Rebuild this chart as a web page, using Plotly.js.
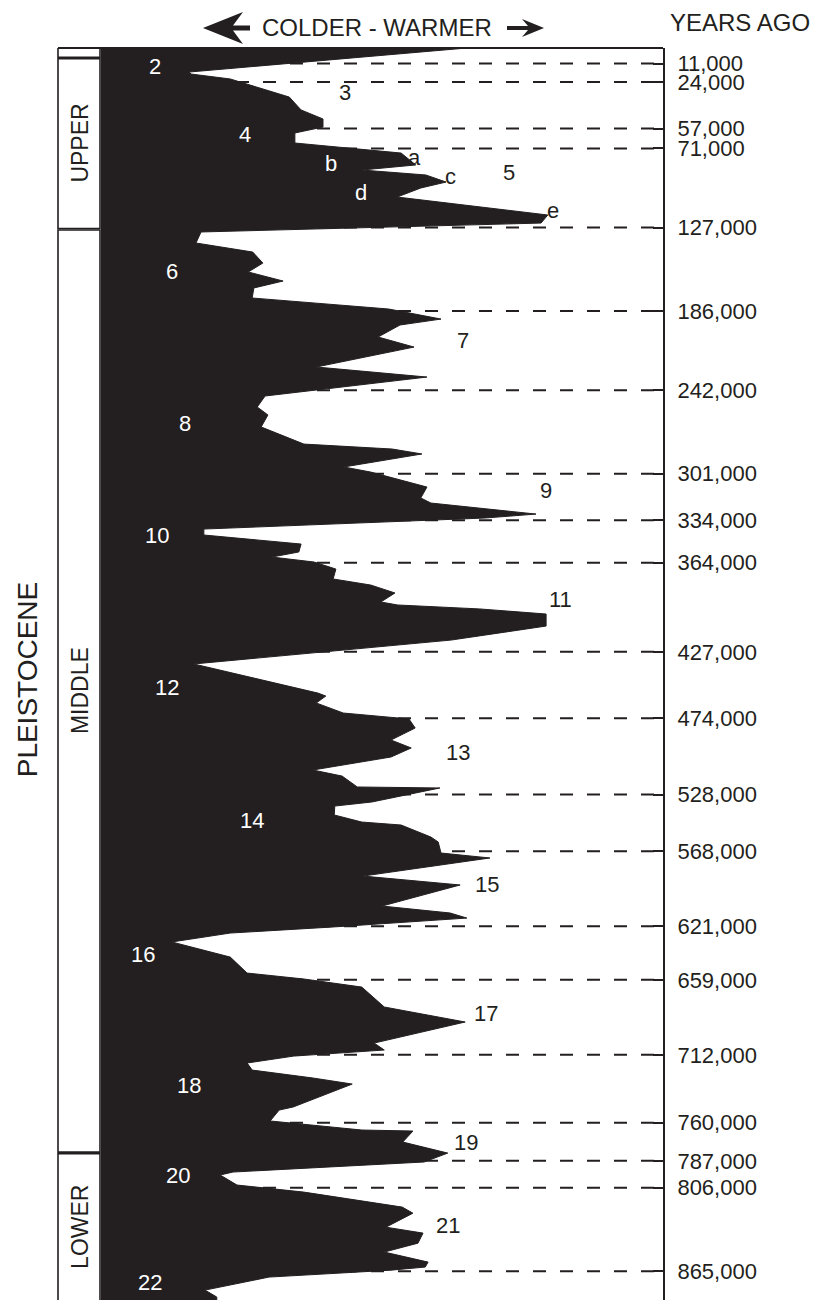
<!DOCTYPE html>
<html><head><meta charset="utf-8">
<script src="https://cdn.plot.ly/plotly-3.0.1.min.js"></script>
<style>html,body{margin:0;padding:0;background:#fff}#chart{width:814px;height:1300px}</style>
</head><body><div id="chart"></div>
<script>
// Relative warmth index (0 = coldest edge, 100 = right axis) vs age in years
const warmth = [65.1,15.7,16.0,23.0,33.5,35.6,39.5,39.5,34.5,34.5,53.4,56.0,46.4,57.8,61.4,56.9,52.7,79.5,78.3,
  17.8,16.9,27.0,28.8,26.2,32.4,27.2,26.9,51.2,60.5,53.2,49.3,55.7,38.3,58.0,29.2,27.8,29.7,28.5,36.1,51.8,57.1,
  43.2,48.0,58.0,56.9,58.7,77.4,68.3,18.3,18.3,35.6,35.2,30.4,37.9,41.8,41.3,48.0,52.3,49.8,52.8,67.4,79.2,79.2,
  62.3,16.5,38.6,40.0,38.3,43.1,54.8,55.9,51.6,55.2,51.6,37.7,42.9,45.6,60.3,48.2,41.6,41.5,46.4,53.4,58.7,60.0,
  60.5,69.2,46.6,63.9,50.0,62.1,65.1,41.3,23.0,12.6,23.0,26.0,36.1,46.4,50.4,64.8,48.6,50.4,34.3,26.0,26.9,37.7,
  44.7,34.2,31.7,30.1,46.4,55.5,53.7,61.7,57.5,23.5,21.2,24.2,36.1,53.6,55.5,50.7,57.3,56.4,50.4,58.2,57.7,51.6,
  29.9,18.5,20.6,20.6];
const ageYears = [0,17000,18400,21900,34700,43800,50200,55900,60100,67200,74300,82700,86300,89800,94800,99000,105400,118100,123800,
  130100,137900,144300,152100,158400,164800,169700,176800,184600,191700,195900,204400,211500,225600,232700,246100,253900,259500,268000,280100,283600,287100,
  296300,299900,310500,318200,321800,329600,332400,340200,344400,350800,356400,360000,363500,368500,375500,379800,385400,391800,393900,396700,400300,408800,
  418700,435600,456200,458300,463200,470300,474500,480900,489400,495000,501400,510600,514900,522600,523300,533200,536100,542400,547400,549500,558000,561500,
  569300,572800,585600,591900,606800,611700,615300,621600,625900,632200,642900,654200,658400,664100,678200,688800,703700,708600,712900,717800,722800,728400,
  732700,748900,751100,758800,765200,765900,773700,781500,787800,794900,797000,804100,809100,819700,824000,833900,838100,845200,851500,858600,862100,864300,
  869200,878400,883300,886000];

const tickAges = [11000,24000,57000,71000,127000,186000,242000,301000,334000,364000,427000,474000,528000,568000,621000,659000,712000,760000,787000,806000,865000];
const tickLabels = ['11,000','24,000','57,000','71,000','127,000','186,000','242,000','301,000','334,000','364,000','427,000','474,000','528,000','568,000','621,000','659,000','712,000','760,000','787,000','806,000','865,000'];

// Isotope stage labels
const stageNames   = ['2','3','4','a','b','c','5','d','e','6','7','8','9','10','11','12','13','14','15','16','17','18','19','20','21','22'];
const stageWarmth  = [9.6,43.4,25.6,55.7,40.9,62.1,72.6,46.3,80.4,12.6,64.4,14.9,79.2,10.0,81.7,11.7,63.5,26.9,68.7,7.5,68.5,15.7,64.9,13.7,61.7,8.7];
const stageAge     = [13400,31800,61500,77100,82000,91200,87700,102500,114600,158400,206500,265200,312600,344400,389700,451900,497900,546000,591900,641400,682500,733400,773700,797000,832400,872700];
const stageInside  = [true,false,true,false,true,false,false,true,false,true,false,true,false,true,false,true,false,true,false,true,false,true,false,true,false,true];

// Sub-epoch boxes
const subepochNames  = ['','UPPER','MIDDLE','LOWER'];
const subepochTop    = [0,7500,128700,782000];
const subepochBottom = [6500,127700,780800,900000];
const epochName = 'PLEISTOCENE';

const L=101, R=663, T=48, B=1300;
const yMax = 885400;
const pxX = v => (v-L)/(R-L);
const pxY = v => (B-v)/(B-T);
const ink = '#231f20';
const FONT = 'Liberation Sans, Arial, Helvetica, sans-serif';
const pathPx = pts => pts.map((p,i) => (i ? 'L' : 'M') + pxX(p[0]).toFixed(5) + ',' + pxY(p[1]).toFixed(5)).join(' ') + ' Z';

const shapes = [];
tickAges.forEach(a => shapes.push({type:'line', xref:'x', yref:'y', x0:0, x1:100, y0:a, y1:a, layer:'below',
  line:{color:ink, width:2, dash:'13px,14px'}}));
subepochNames.forEach((n,i) => shapes.push({type:'rect', xref:'paper', yref:'y', x0:pxX(58), x1:pxX(100),
  y0:subepochTop[i], y1:subepochBottom[i], line:{color:ink, width:1.6}, fillcolor:'#fff', layer:'above'}));
shapes.push({type:'line', xref:'paper', yref:'paper', x0:pxX(58), x1:1, y0:1, y1:1, line:{color:ink, width:2}});
// Direction arrows (decoration)
shapes.push({type:'path', xref:'paper', yref:'paper', fillcolor:ink, line:{width:0},
  path: pathPx([[203,28],[243,12],[233,25.5],[250,25.5],[250,30.5],[233,30.5],[243,44]])});
shapes.push({type:'path', xref:'paper', yref:'paper', fillcolor:ink, line:{width:0},
  path: pathPx([[544,28],[522,19],[528,26],[507,26],[507,30],[528,30],[522,37]])});

const annotations = [];
annotations.push({xref:'paper', yref:'paper', x:pxX(377), y:pxY(28), text:'COLDER - WARMER', showarrow:false,
  font:{size:24, color:ink, family:FONT}, xanchor:'center', yanchor:'middle'});
annotations.push({xref:'paper', yref:'paper', x:pxX(668), y:pxY(22), text:'YEARS AGO', showarrow:false,
  font:{size:24, color:ink, family:FONT}, xanchor:'left', yanchor:'middle'});
stageNames.forEach((n,i) => annotations.push({xref:'x', yref:'y', x:stageWarmth[i], y:stageAge[i], text:n, showarrow:false,
  font:{size:22, family:FONT, color: stageInside[i] ? '#ffffff' : ink}, xanchor:'center', yanchor:'middle'}));
subepochNames.forEach((n,i) => { if(!n) return;
  const mid = (subepochTop[i] + Math.min(subepochBottom[i], yMax))/2;
  annotations.push({xref:'paper', yref:'y', x:pxX(80), y:mid, text:n, textangle:-90, showarrow:false,
    font:{size:23, family:FONT, color:ink}, xanchor:'center', yanchor:'middle'});
});
annotations.push({xref:'paper', yref:'y', x:pxX(27), y:(subepochTop[1]+yMax)/2, text:epochName, textangle:-90, showarrow:false,
  font:{size:28, family:FONT, color:ink}, xanchor:'center', yanchor:'middle'});

const trace = {type:'scatter', mode:'lines', x:warmth, y:ageYears, fill:'tozerox', fillcolor:ink,
  line:{color:ink, width:1}, hoverinfo:'skip'};

const layout = {
  width:814, height:1300, margin:{l:L, r:814-R, t:T, b:0, pad:0},
  paper_bgcolor:'#ffffff', plot_bgcolor:'#ffffff', showlegend:false,
  font:{family:FONT, color:ink},
  xaxis:{range:[0,100], visible:false, fixedrange:true},
  yaxis:{range:[yMax,0], side:'right', showgrid:false, zeroline:false, showline:true, linecolor:ink, linewidth:2,
    tickmode:'array', tickvals:tickAges, ticktext:tickLabels, ticks:'inside', ticklen:10, tickwidth:2, tickcolor:ink,
    tickfont:{size:22, family:FONT, color:ink}, ticklabelstandoff:8, fixedrange:true},
  shapes, annotations
};
Plotly.newPlot('chart', [trace], layout, {staticPlot:true, displayModeBar:false});
</script></body></html>
